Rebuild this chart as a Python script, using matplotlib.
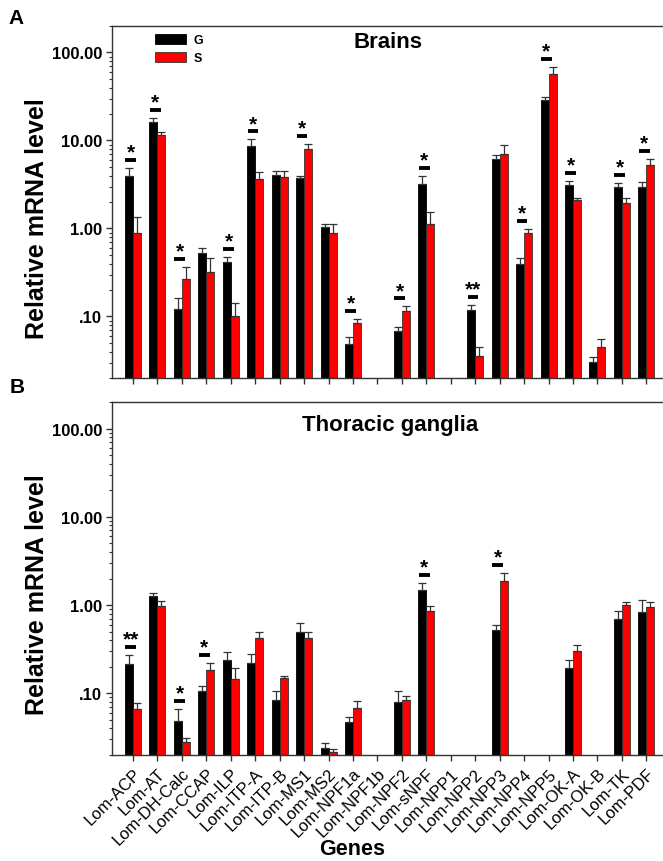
import matplotlib
matplotlib.use("Agg")
import matplotlib.pyplot as plt
import numpy as np
from matplotlib.ticker import FixedLocator, FixedFormatter, LogLocator, NullFormatter

plt.rcParams['font.family'] = ['Liberation Sans', 'DejaVu Sans']

genes = ["Lom-ACP", "Lom-AT", "Lom-DH-Calc", "Lom-CCAP", "Lom-ILP", "Lom-ITP-A",
         "Lom-ITP-B", "Lom-MS1", "Lom-MS2", "Lom-NPF1a", "Lom-NPF1b", "Lom-NPF2",
         "Lom-sNPF", "Lom-NPP1", "Lom-NPP2", "Lom-NPP3", "Lom-NPP4", "Lom-NPP5",
         "Lom-OK-A", "Lom-OK-B", "Lom-TK", "Lom-PDF"]
nan = np.nan

# brains
brain_g = [4.0, 16.4, 0.121, 0.521, 0.42, 8.77, 4.06, 3.78, 1.04, 0.049, nan, 0.0687,
           3.23, nan, 0.118, 6.2, 0.39, 29.1, 3.09, 0.0304, 2.94, 2.94]
brain_g_err = [0.87, 1.8, 0.041, 0.08, 0.058, 1.5, 0.44, 0.13, 0.08, 0.010, nan, 0.0063,
               0.72, nan, 0.017, 0.57, 0.076, 2.2, 0.41, 0.0043, 0.35, 0.44]
brain_s = [0.88, 11.4, 0.264, 0.323, 0.10, 3.68, 3.85, 8.0, 0.88, 0.084, nan, 0.116,
           1.12, nan, 0.0358, 7.0, 0.89, 56.9, 2.13, 0.0446, 1.97, 5.21]
brain_s_err = [0.48, 1.2, 0.104, 0.143, 0.041, 0.71, 0.65, 1.1, 0.24, 0.009, nan, 0.014,
               0.43, nan, 0.0092, 1.9, 0.09, 12.0, 0.09, 0.0104, 0.25, 0.95]
brain_sig = ["*", "*", "*", "", "*", "*", "", "*", "", "*", "", "*",
             "*", "", "**", "", "*", "*", "*", "", "*", "*"]

# thoracic ganglia
thor_g = [0.214, 1.28, 0.048, 0.105, 0.237, 0.219, 0.084, 0.49, 0.024, 0.047, nan, 0.079,
          1.47, nan, nan, 0.52, nan, nan, 0.196, nan, 0.70, 0.83]
thor_g_err = [0.058, 0.09, 0.018, 0.016, 0.055, 0.063, 0.021, 0.134, 0.0035, 0.0065, nan, 0.027,
              0.29, nan, nan, 0.077, nan, nan, 0.045, nan, 0.148, 0.30]
thor_s = [0.066, 0.966, 0.0282, 0.182, 0.147, 0.42, 0.151, 0.42, 0.0218, 0.0676, nan, 0.083,
          0.848, nan, nan, 1.89, nan, nan, 0.30, nan, 1.0, 0.957]
thor_s_err = [0.011, 0.134, 0.0027, 0.041, 0.049, 0.07, 0.008, 0.07, 0.0015, 0.015, nan, 0.011,
              0.132, nan, nan, 0.40, nan, nan, 0.057, nan, 0.09, 0.133]
thor_sig = ["**", "", "*", "*", "", "", "", "", "", "", "", "",
            "*", "", "", "*", "", "", "", "", "", ""]

W, H = 663, 862
fig = plt.figure(figsize=(W / 100, H / 100), dpi=100)

def fx(px):
    return px / W

def fy(py):
    return 1 - py / H

ax1 = fig.add_axes([fx(112), fy(379), 1 - fx(112), fy(27) - fy(379)])
ax2 = fig.add_axes([fx(112), fy(756), 1 - fx(112), fy(403) - fy(756)])

bw = 0.327
x = np.arange(len(genes))


def draw(ax, g, ge, s, se, sig):
    g = np.array(g); ge = np.array(ge); s = np.array(s); se = np.array(se)
    mg = ~np.isnan(g)
    ms = ~np.isnan(s)
    ax.bar(x[mg] - bw / 2, g[mg], bw, color="black", edgecolor="black", lw=0.6,
           label="G", zorder=2)
    ax.bar(x[ms] + bw / 2, s[ms], bw, color="#ff0000", edgecolor="#333333", lw=0.6,
           label="S", zorder=2)
    ax.errorbar(x[mg] - bw / 2, g[mg], yerr=[np.zeros(mg.sum()), ge[mg]], fmt="none",
                ecolor="#333333", elinewidth=0.9, capsize=2.9, capthick=0.9, zorder=3)
    ax.errorbar(x[ms] + bw / 2, s[ms], yerr=[np.zeros(ms.sum()), se[ms]], fmt="none",
                ecolor="#333333", elinewidth=0.9, capsize=2.9, capthick=0.9, zorder=3)
    for i, m in enumerate(sig):
        if not m:
            continue
        top = np.nanmax([g[i] + ge[i], s[i] + se[i]])
        yl = top * 10 ** (8 / 88)
        ax.plot([i - 0.31, i + 0.13], [yl, yl], color="black", lw=2.8,
                solid_capstyle="butt", zorder=4)
        ax.annotate(m, (i - 0.09, yl), xytext=(0, 1.8), textcoords="offset points",
                    ha="center", va="baseline", fontsize=15, fontweight="bold")

    ax.set_yscale("log")
    ax.set_ylim(0.02, 200)
    ax.set_xlim(-0.86, 21.68)
    ax.yaxis.set_major_locator(FixedLocator([0.1, 1, 10, 100]))
    ax.yaxis.set_major_formatter(FixedFormatter([".10", "1.00", "10.00", "100.00"]))
    ax.yaxis.set_minor_locator(LogLocator(base=10, subs=np.arange(2, 10)))
    ax.yaxis.set_minor_formatter(NullFormatter())
    ax.set_xticks(x)
    for sp in ["left", "bottom", "top"]:
        ax.spines[sp].set_linewidth(1.0)
        ax.spines[sp].set_color("#333333")
    ax.spines["right"].set_visible(False)
    ax.tick_params(axis="y", which="major", direction="out", length=4, width=1,
                   color="#333333", pad=3, labelsize=12)
    ax.tick_params(axis="y", which="minor", direction="out", length=2.2, width=0.8,
                   color="#333333")
    ax.tick_params(axis="x", which="major", direction="out", length=4.5, width=1,
                   color="#333333")
    for lab in ax.get_yticklabels():
        lab.set_fontweight("bold")


draw(ax1, brain_g, brain_g_err, brain_s, brain_s_err, brain_sig)
draw(ax2, thor_g, thor_g_err, thor_s, thor_s_err, thor_sig)

ax1.set_xticklabels([])
ax2.set_xticklabels(genes, rotation=45, ha="right", va="top", rotation_mode="anchor",
                    fontsize=12)
ax2.tick_params(axis="x", pad=3)

ax1.legend(loc="upper left", bbox_to_anchor=((155 - 112) / 551, (379 - 35) / 352),
           frameon=False, borderaxespad=0, borderpad=0, handlelength=2.5,
           handleheight=0.85, labelspacing=0.45, handletextpad=0.6,
           prop={"weight": "bold", "size": 9})

fig.text(fx(388), fy(43), "Brains", ha="center", va="center", fontsize=16, fontweight="bold")
fig.text(fx(390), fy(426), "Thoracic ganglia", ha="center", va="center", fontsize=16,
         fontweight="bold")
fig.text(fx(37), fy(219), "Relative mRNA level", rotation=90, ha="center", va="center",
         fontsize=18, fontweight="bold")
fig.text(fx(37), fy(595), "Relative mRNA level", rotation=90, ha="center", va="center",
         fontsize=18, fontweight="bold")
fig.text(fx(352), fy(850), "Genes", ha="center", va="center", fontsize=15.5,
         fontweight="bold")
fig.text(fx(16), fy(19), "A", ha="center", va="center", fontsize=15, fontweight="bold")
fig.text(fx(17), fy(388), "B", ha="center", va="center", fontsize=15, fontweight="bold")

fig.savefig("out.png", dpi=100)
